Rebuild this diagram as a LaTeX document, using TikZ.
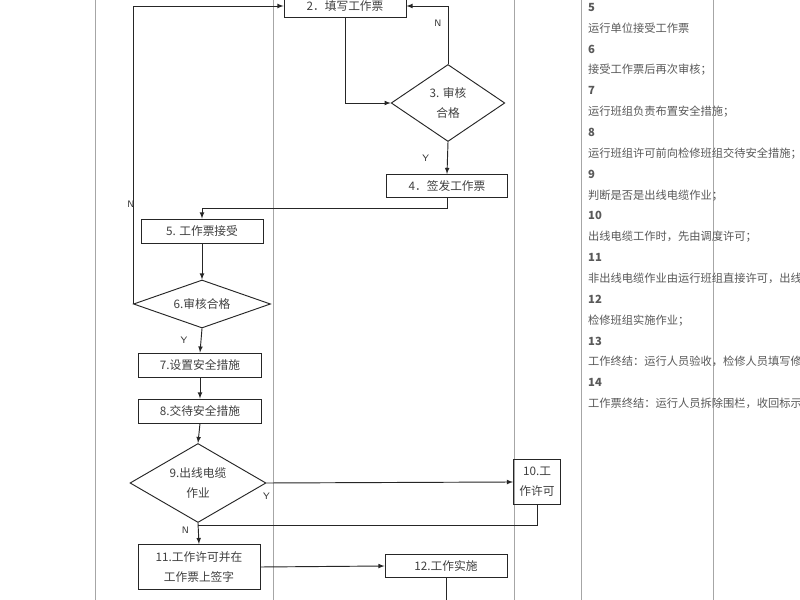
\documentclass[tikz,border=0pt]{standalone}
\usepackage{fontspec}
\setmainfont{Noto Sans CJK SC}
\usetikzlibrary{shapes.geometric}
\tikzset{
    stage/.style={draw, gray!30!black, thick, text=black!75, inner sep=0pt, align=center, font=\fontsize{10}{17}\selectfont},
    check/.style={stage, diamond, aspect=2.5},
    flow/.style={draw, gray!30!black, thick, -latex},
    yn/.style={font=\fontsize{8}{9}\selectfont\sffamily, text=black!80},
    lane/.style={draw, gray!70, thick},
}
\begin{document}
\begin{tikzpicture}[x=0.03cm, y=-0.03cm]

    % Frame
    \clip (0,0) rectangle (800,600);
    \fill[white] (0,0) rectangle (800,600);

    % Lanes
    \draw[lane] (95,-5) -- (95,605);
    \draw[lane] (273,-5) -- (273,605);
    \draw[lane] (514,-5) -- (514,605);
    \draw[lane] (581,-5) -- (581,605);
    \draw[lane] (713,-5) -- (713,605);

    % Steps
    \node[stage, minimum width=3.66cm, minimum height=0.7cm]   (fill)     at (345,6)   {2．填写工作票};
    \node[check, minimum width=3cm, minimum height=2.31cm]     (audit)    at (448,103) {3. 审核\\合格};
    \node[stage, minimum width=3.63cm, minimum height=0.69cm]  (sign)     at (447,186) {4．签发工作票};
    \node[stage, minimum width=3.66cm, minimum height=0.72cm]  (accept)   at (202,231) {5. 工作票接受};
    \node[check, minimum width=4.11cm, minimum height=1.44cm]  (recheck)  at (202,304) {6.审核合格};
    \node[stage, minimum width=3.69cm, minimum height=0.72cm]  (safety)   at (200,365) {7.设置安全措施};
    \node[stage, minimum width=3.69cm, minimum height=0.72cm]  (handover) at (200,411) {8.交待安全措施};
    \node[check, minimum width=4.08cm, minimum height=2.37cm]  (cable)    at (198,483) {9.出线电缆\\作业};
    \node[stage, minimum width=1.41cm, minimum height=1.35cm]  (dispatch) at (537,482) {10.工\\作许可};
    \node[stage, minimum width=3.66cm, minimum height=1.35cm]  (permit)   at (199,567) {11.工作许可并在\\工作票上签字};
    \node[stage, minimum width=3.66cm, minimum height=0.69cm]  (work)     at (446,566) {12.工作实施};

    \coordinate (loopA) at (133,6);
    \coordinate (loopB) at (198,525);
    \coordinate (down)  at (446,605);

    % Connectors
    \draw[flow] (fill.south) |- (audit.west);
    \draw[flow] (audit.north) |- (fill.east) node[yn, pos=0.35, left=2pt] {N};
    \draw[flow] (audit.south) -- (sign.north) node[yn, midway, left=12pt] {Y};
    \draw[flow] (sign.south) -- ++(0,11) -| (accept.north);
    \draw[flow] (accept.south) -- (recheck.north);
    \draw[flow] (recheck.west) -- (recheck.west |- loopA) -- (fill.west);
    \node[yn] (nback) at (131,204) {N};
    \draw[flow] (recheck.south) -- (safety.north) node[yn, midway, left=8pt] {Y};
    \draw[flow] (safety.south) -- (handover.north);
    \draw[flow] (handover.south) -- (cable.north);
    \draw[flow] (cable.east) -- (dispatch.west) node[yn, pos=0, below=5pt] {Y};
    \draw[draw=gray!30!black, thick] (dispatch.south) |- (loopB);
    \draw[flow] (cable.south) -- (permit.north) node[yn, pos=0, below left, xshift=-4pt] {N};
    \draw[flow] (permit.east) -- (work.west);
    \draw[draw=gray!30!black, thick] (work.south) -- (down);

    % Notes
    \node[anchor=north west, text width=3.5cm, inner sep=0pt, text=black!65,
          font=\fontsize{9.6}{17.8}\selectfont] (notes) at (588,3) {%
        \textbf{5}\quad 运行单位接受工作票\par
        \textbf{6}\quad 接受工作票后再次审核；\par
        \textbf{7}\quad 运行班组负责布置安全措施；\par
        \textbf{8}\quad 运行班组许可前向检修班组交待安全措施；\par
        \textbf{9}\quad 判断是否是出线电缆作业；\par
        \textbf{10}\quad 出线电缆工作时，先由调度许可；\par
        \textbf{11}\quad 非出线电缆作业由运行班组直接许可，出线电缆作业由调度，运行双重许可；\par
        \textbf{12}\quad 检修班组实施作业；\par
        \textbf{13}\quad 工作终结：运行人员验收，检修人员填写修试记录经运行人员审核后，双方在工作票上办理工作终结手续；\par
        \textbf{14}\quad 工作票终结：运行人员拆除围栏，收回标示牌，办理工作票终结手续；};

\end{tikzpicture}
\end{document}
